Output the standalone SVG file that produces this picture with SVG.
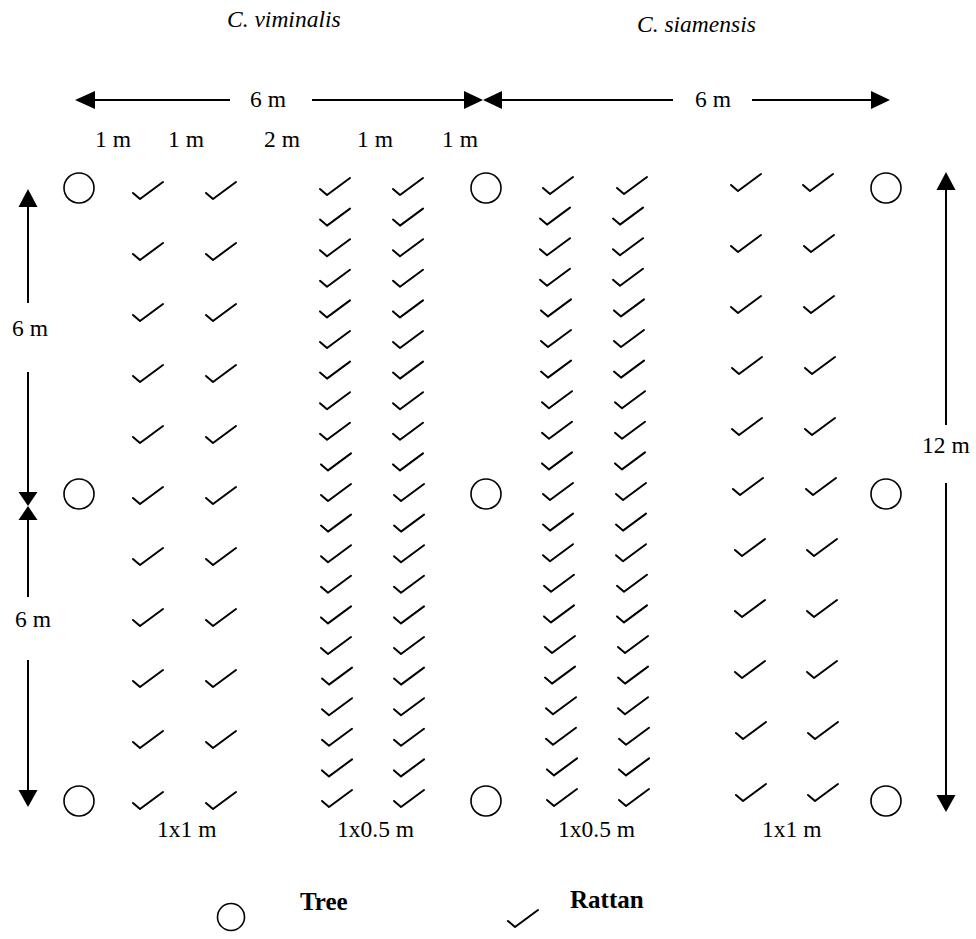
<svg xmlns="http://www.w3.org/2000/svg" xmlns:xlink="http://www.w3.org/1999/xlink" width="976" height="939" viewBox="0 0 976 939">
  <style>
    .txt { font-family: "Liberation Serif", "Times New Roman", serif; font-size: 23.5px; fill: #000; }
    .it { font-style: italic; }
    .bold { font-weight: bold; font-size: 25px; }
    .tree { fill: none; stroke: #000; stroke-width: 1.6; }
    .rattan { fill: none; stroke: #000; stroke-width: 2; stroke-linecap: round; stroke-linejoin: round; }
    .dim { stroke: #000; stroke-width: 2; fill: none; }
    .head { fill: #000; stroke: none; }
  </style>
  <defs>
    <!-- rattan seedling mark -->
    <path id="r" class="rattan" d="M0,11 L7,17 L30,0"/>
    <circle id="t" class="tree" r="15"/>
  </defs>

  <rect width="976" height="939" fill="#fff"/>

  <!-- species titles -->
  <g id="titles">
    <text class="txt it" x="227" y="27">C. viminalis</text>
    <text class="txt it" x="637" y="32">C. siamensis</text>
  </g>

  <!-- dimension lines -->
  <g id="dimensions">
    <!-- horizontal 6 m spans -->
    <line class="dim" x1="94" y1="100" x2="230" y2="100"/>
    <line class="dim" x1="312" y1="100" x2="466" y2="100"/>
    <polygon class="head" points="75,100 95,91 95,109"/>
    <polygon class="head" points="483,100 464,91 464,109"/>
    <line class="dim" x1="501" y1="100" x2="673" y2="100"/>
    <line class="dim" x1="752" y1="100" x2="873" y2="100"/>
    <polygon class="head" points="483,100 502,91 502,109"/>
    <polygon class="head" points="890,100 871,91 871,109"/>

    <!-- left vertical 6 m + 6 m -->
    <line class="dim" x1="28" y1="206" x2="28" y2="303"/>
    <line class="dim" x1="28" y1="372" x2="28" y2="493"/>
    <line class="dim" x1="28" y1="519" x2="28" y2="597"/>
    <line class="dim" x1="28" y1="660" x2="28" y2="791"/>
    <polygon class="head" points="28,189 18.5,207 37.5,207"/>
    <polygon class="head" points="28,506 18.5,492 37.5,492"/>
    <polygon class="head" points="28,506 18.5,520 37.5,520"/>
    <polygon class="head" points="28,807 18.5,790 37.5,790"/>

    <!-- right vertical 12 m -->
    <line class="dim" x1="946" y1="189" x2="946" y2="425"/>
    <line class="dim" x1="946" y1="483" x2="946" y2="796"/>
    <polygon class="head" points="946,172 936.5,190 955.5,190"/>
    <polygon class="head" points="946,812 936.5,795 955.5,795"/>
  </g>

  <!-- dimension labels -->
  <g id="labels">
    <text class="txt" x="250" y="107">6 m</text>
    <text class="txt" x="695" y="107">6 m</text>
    <text class="txt" x="95" y="147">1 m</text>
    <text class="txt" x="168" y="147">1 m</text>
    <text class="txt" x="264" y="147">2 m</text>
    <text class="txt" x="357" y="147">1 m</text>
    <text class="txt" x="442" y="147">1 m</text>
    <text class="txt" x="12" y="336">6 m</text>
    <text class="txt" x="15" y="627">6 m</text>
    <text class="txt" x="922" y="453">12 m</text>
    <text class="txt" x="157" y="837">1x1 m</text>
    <text class="txt" x="337" y="837">1x0.5 m</text>
    <text class="txt" x="558" y="837">1x0.5 m</text>
    <text class="txt" x="762" y="837">1x1 m</text>
  </g>

  <!-- trees -->
  <g id="trees">
    <use xlink:href="#t" x="79" y="188"/>
    <use xlink:href="#t" x="486" y="188"/>
    <use xlink:href="#t" x="886" y="188"/>
    <use xlink:href="#t" x="79" y="494"/>
    <use xlink:href="#t" x="486" y="494"/>
    <use xlink:href="#t" x="886" y="494"/>
    <use xlink:href="#t" x="79" y="801"/>
    <use xlink:href="#t" x="486" y="801"/>
    <use xlink:href="#t" x="886" y="801"/>
  </g>

  <!-- C. viminalis 1x1 m rows -->
  <g id="rattan-vim-1x1">
    <use xlink:href="#r" x="133" y="182"/><use xlink:href="#r" x="206" y="182"/>
    <use xlink:href="#r" x="133" y="243"/><use xlink:href="#r" x="206" y="243"/>
    <use xlink:href="#r" x="133" y="304"/><use xlink:href="#r" x="206" y="304"/>
    <use xlink:href="#r" x="133" y="365"/><use xlink:href="#r" x="206" y="365"/>
    <use xlink:href="#r" x="133" y="426"/><use xlink:href="#r" x="206" y="426"/>
    <use xlink:href="#r" x="133" y="487"/><use xlink:href="#r" x="206" y="487"/>
    <use xlink:href="#r" x="133" y="548"/><use xlink:href="#r" x="206" y="548"/>
    <use xlink:href="#r" x="133" y="609"/><use xlink:href="#r" x="206" y="609"/>
    <use xlink:href="#r" x="133" y="670"/><use xlink:href="#r" x="206" y="670"/>
    <use xlink:href="#r" x="133" y="731"/><use xlink:href="#r" x="206" y="731"/>
    <use xlink:href="#r" x="133" y="792"/><use xlink:href="#r" x="206" y="792"/>
  </g>

  <!-- C. viminalis 1x0.5 m rows -->
  <g id="rattan-vim-1x05">
    <use xlink:href="#r" x="320" y="178"/><use xlink:href="#r" x="393" y="178"/>
    <use xlink:href="#r" x="320" y="208.6"/><use xlink:href="#r" x="393" y="208.6"/>
    <use xlink:href="#r" x="320" y="239.2"/><use xlink:href="#r" x="393" y="239.2"/>
    <use xlink:href="#r" x="320" y="269.8"/><use xlink:href="#r" x="393" y="269.8"/>
    <use xlink:href="#r" x="320" y="300.4"/><use xlink:href="#r" x="393" y="300.4"/>
    <use xlink:href="#r" x="320" y="331"/><use xlink:href="#r" x="393" y="331"/>
    <use xlink:href="#r" x="320" y="361.6"/><use xlink:href="#r" x="393" y="361.6"/>
    <use xlink:href="#r" x="320" y="392.2"/><use xlink:href="#r" x="393" y="392.2"/>
    <use xlink:href="#r" x="320" y="422.8"/><use xlink:href="#r" x="393" y="422.8"/>
    <use xlink:href="#r" x="321" y="453.4"/><use xlink:href="#r" x="393" y="453.4"/>
    <use xlink:href="#r" x="321" y="484"/><use xlink:href="#r" x="394" y="484"/>
    <use xlink:href="#r" x="321" y="514.6"/><use xlink:href="#r" x="394" y="514.6"/>
    <use xlink:href="#r" x="321" y="545.2"/><use xlink:href="#r" x="394" y="545.2"/>
    <use xlink:href="#r" x="321" y="575.8"/><use xlink:href="#r" x="394" y="575.8"/>
    <use xlink:href="#r" x="321" y="606.4"/><use xlink:href="#r" x="394" y="606.4"/>
    <use xlink:href="#r" x="321" y="637"/><use xlink:href="#r" x="394" y="637"/>
    <use xlink:href="#r" x="322" y="667.6"/><use xlink:href="#r" x="394" y="667.6"/>
    <use xlink:href="#r" x="322" y="698.2"/><use xlink:href="#r" x="394" y="698.2"/>
    <use xlink:href="#r" x="322" y="728.8"/><use xlink:href="#r" x="394" y="728.8"/>
    <use xlink:href="#r" x="322" y="759.4"/><use xlink:href="#r" x="394" y="759.4"/>
    <use xlink:href="#r" x="322" y="790"/><use xlink:href="#r" x="394" y="790"/>
  </g>

  <!-- C. siamensis 1x0.5 m rows -->
  <g id="rattan-sia-1x05">
    <use xlink:href="#r" x="543" y="177"/><use xlink:href="#r" x="617" y="177"/>
    <use xlink:href="#r" x="540" y="207.6"/><use xlink:href="#r" x="613" y="207.6"/>
    <use xlink:href="#r" x="540" y="238.2"/><use xlink:href="#r" x="613" y="238.2"/>
    <use xlink:href="#r" x="540" y="268.8"/><use xlink:href="#r" x="613" y="268.8"/>
    <use xlink:href="#r" x="541" y="299.4"/><use xlink:href="#r" x="614" y="299.4"/>
    <use xlink:href="#r" x="541" y="330"/><use xlink:href="#r" x="614" y="330"/>
    <use xlink:href="#r" x="541" y="360.6"/><use xlink:href="#r" x="614" y="360.6"/>
    <use xlink:href="#r" x="542" y="391.2"/><use xlink:href="#r" x="615" y="391.2"/>
    <use xlink:href="#r" x="542" y="421.8"/><use xlink:href="#r" x="615" y="421.8"/>
    <use xlink:href="#r" x="542" y="452.4"/><use xlink:href="#r" x="615" y="452.4"/>
    <use xlink:href="#r" x="543" y="483"/><use xlink:href="#r" x="616" y="483"/>
    <use xlink:href="#r" x="543" y="513.6"/><use xlink:href="#r" x="616" y="513.6"/>
    <use xlink:href="#r" x="543" y="544.2"/><use xlink:href="#r" x="616" y="544.2"/>
    <use xlink:href="#r" x="544" y="574.8"/><use xlink:href="#r" x="617" y="574.8"/>
    <use xlink:href="#r" x="544" y="605.4"/><use xlink:href="#r" x="617" y="605.4"/>
    <use xlink:href="#r" x="545" y="636"/><use xlink:href="#r" x="618" y="636"/>
    <use xlink:href="#r" x="545" y="666.6"/><use xlink:href="#r" x="618" y="666.6"/>
    <use xlink:href="#r" x="546" y="697.2"/><use xlink:href="#r" x="618" y="697.2"/>
    <use xlink:href="#r" x="546" y="727.8"/><use xlink:href="#r" x="619" y="727.8"/>
    <use xlink:href="#r" x="547" y="758.4"/><use xlink:href="#r" x="619" y="758.4"/>
    <use xlink:href="#r" x="547" y="789"/><use xlink:href="#r" x="619" y="789"/>
  </g>

  <!-- C. siamensis 1x1 m rows -->
  <g id="rattan-sia-1x1">
    <use xlink:href="#r" x="731" y="174"/><use xlink:href="#r" x="803" y="174"/>
    <use xlink:href="#r" x="731" y="235"/><use xlink:href="#r" x="804" y="235"/>
    <use xlink:href="#r" x="731" y="296"/><use xlink:href="#r" x="804" y="296"/>
    <use xlink:href="#r" x="732" y="357"/><use xlink:href="#r" x="805" y="357"/>
    <use xlink:href="#r" x="732" y="418"/><use xlink:href="#r" x="805" y="418"/>
    <use xlink:href="#r" x="733" y="478"/><use xlink:href="#r" x="806" y="478"/>
    <use xlink:href="#r" x="735" y="539"/><use xlink:href="#r" x="807" y="539"/>
    <use xlink:href="#r" x="735" y="600"/><use xlink:href="#r" x="807" y="600"/>
    <use xlink:href="#r" x="735" y="661"/><use xlink:href="#r" x="807" y="661"/>
    <use xlink:href="#r" x="736" y="722"/><use xlink:href="#r" x="808" y="722"/>
    <use xlink:href="#r" x="736" y="784"/><use xlink:href="#r" x="808" y="784"/>
  </g>

  <!-- legend -->
  <g id="legend">
    <circle class="tree" cx="231" cy="917" r="13.5"/>
    <text class="txt bold" x="300" y="910">Tree</text>
    <use xlink:href="#r" x="508" y="910"/>
    <text class="txt bold" x="570" y="908">Rattan</text>
  </g>
</svg>
